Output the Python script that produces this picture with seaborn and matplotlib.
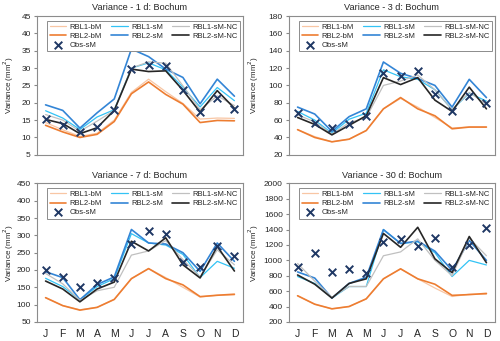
import numpy as np
import pandas as pd
import matplotlib
matplotlib.use("Agg")
import matplotlib.pyplot as plt
import seaborn as sns

months = ["J", "F", "M", "A", "M", "J", "J", "A", "S", "O", "N", "D"]
series_names = ["RBL1-bM", "RBL2-bM", "RBL1-sM", "RBL2-sM", "RBL1-sM-NC", "RBL2-sM-NC"]

# 1 d
rbl1_bm_1d = [14.3, 12.2, 10.3, 11.2, 15.0, 23.0, 26.8, 23.2, 19.8, 15.3, 15.6, 15.5]
rbl2_bm_1d = [13.5, 11.6, 10.0, 10.9, 14.6, 22.6, 26.0, 22.4, 19.6, 14.3, 14.9, 14.8]
rbl1_sm_1d = [17.7, 15.6, 12.3, 15.9, 18.0, 30.0, 31.5, 29.5, 24.5, 18.8, 24.4, 20.6]
rbl2_sm_1d = [19.4, 17.8, 12.7, 17.1, 21.1, 35.5, 33.3, 29.7, 27.3, 19.7, 26.8, 21.9]
rbl1_nc_1d = [16.6, 15.0, 11.8, 14.7, 17.8, 30.0, 31.8, 31.4, 24.9, 18.0, 22.0, 19.2]
rbl2_nc_1d = [15.2, 14.0, 11.1, 12.8, 17.8, 29.7, 29.0, 29.2, 23.6, 17.3, 23.5, 18.4]
obs_1d = [15.4, 13.7, 11.7, 13.1, 18.0, 29.8, 30.9, 30.7, 23.6, 17.3, 21.4, 18.3]

# 3 d
rbl1_bm_3d = [49, 41, 35, 38, 48, 73, 85, 75, 63, 51, 52, 52]
rbl2_bm_3d = [49, 40, 35, 38, 48, 73, 86, 73, 65, 50, 52, 52]
rbl1_sm_3d = [70, 60, 45, 61, 68, 118, 110, 107, 95, 72, 91, 82]
rbl2_sm_3d = [75, 67, 47, 64, 73, 127, 114, 108, 100, 75, 107, 86]
rbl1_nc_3d = [66, 58, 44, 57, 63, 100, 105, 112, 95, 72, 92, 78]
rbl2_nc_3d = [63, 55, 43, 54, 65, 109, 101, 109, 83, 70, 98, 73]
obs_3d = [68, 57, 51, 55, 65, 114, 111, 117, 90, 70, 88, 80]

# 7 d
rbl1_bm_7d = [120, 97, 85, 92, 115, 175, 204, 178, 150, 122, 127, 128]
rbl2_bm_7d = [120, 97, 84, 92, 115, 175, 204, 175, 157, 123, 127, 130]
rbl1_sm_7d = [176, 152, 114, 152, 175, 305, 278, 272, 245, 178, 225, 205]
rbl2_sm_7d = [195, 178, 114, 158, 180, 317, 278, 275, 250, 196, 278, 225]
rbl1_nc_7d = [190, 160, 112, 140, 150, 243, 255, 285, 230, 180, 258, 215]
rbl2_nc_7d = [168, 145, 108, 145, 165, 283, 255, 293, 215, 177, 268, 197]
obs_7d = [200, 179, 151, 162, 177, 275, 313, 303, 224, 210, 268, 241]

# 30 d
rbl1_bm_30d = [540, 430, 370, 400, 500, 760, 890, 760, 640, 530, 560, 560]
rbl2_bm_30d = [540, 430, 370, 400, 500, 760, 890, 760, 690, 545, 555, 570]
rbl1_sm_30d = [790, 700, 510, 660, 660, 1400, 1220, 1240, 1100, 790, 1000, 940]
rbl2_sm_30d = [850, 770, 510, 700, 780, 1400, 1220, 1250, 1120, 870, 1260, 1000]
rbl1_nc_30d = [960, 730, 520, 660, 660, 1060, 1110, 1280, 1000, 800, 1290, 1060]
rbl2_nc_30d = [810, 690, 510, 700, 760, 1350, 1170, 1430, 1020, 840, 1310, 970]
obs_30d = [910, 1100, 845, 885, 835, 1240, 1275, 1190, 1285, 920, 1200, 1420]

panels = [
    ("Variance - 1 d: Bochum", [rbl1_bm_1d, rbl2_bm_1d, rbl1_sm_1d, rbl2_sm_1d, rbl1_nc_1d, rbl2_nc_1d], obs_1d, (5, 45, 5)),
    ("Variance - 3 d: Bochum", [rbl1_bm_3d, rbl2_bm_3d, rbl1_sm_3d, rbl2_sm_3d, rbl1_nc_3d, rbl2_nc_3d], obs_3d, (20, 180, 20)),
    ("Variance - 7 d: Bochum", [rbl1_bm_7d, rbl2_bm_7d, rbl1_sm_7d, rbl2_sm_7d, rbl1_nc_7d, rbl2_nc_7d], obs_7d, (50, 450, 50)),
    ("Variance - 30 d: Bochum", [rbl1_bm_30d, rbl2_bm_30d, rbl1_sm_30d, rbl2_sm_30d, rbl1_nc_30d, rbl2_nc_30d], obs_30d, (200, 2000, 200)),
]

colors = {"RBL1-bM": "#F8C6A4", "RBL2-bM": "#ED7D31", "RBL1-sM": "#33C3F5",
          "RBL2-sM": "#3385D6", "RBL1-sM-NC": "#C0C0C0", "RBL2-sM-NC": "#262626"}
widths = {"RBL1-bM": 0.9, "RBL2-bM": 1.2, "RBL1-sM": 0.9,
          "RBL2-sM": 1.2, "RBL1-sM-NC": 0.9, "RBL2-sM-NC": 1.2}
obs_color = "#1F3864"

sns.set_style("white")
plt.rcParams["font.family"] = ["Liberation Sans", "DejaVu Sans"]

fig = plt.figure(figsize=(5, 3.41), dpi=100)
positions = [(0.074, 0.546, 0.412, 0.407), (0.578, 0.546, 0.412, 0.407),
             (0.074, 0.056, 0.412, 0.406), (0.578, 0.056, 0.412, 0.406)]
label_x = [-0.1, -0.135, -0.1, -0.135]

x = np.arange(12)
for i, (title, series, obs, (ymin, ymax, ystep)) in enumerate(panels):
    ax = fig.add_axes(positions[i])
    rows = []
    for name, vals in zip(series_names, series):
        for m, v in zip(x, vals):
            rows.append({"month": m, "value": v, "series": name})
    df = pd.DataFrame(rows)
    for name in series_names:
        sns.lineplot(data=df[df["series"] == name], x="month", y="value", ax=ax,
                     color=colors[name], lw=widths[name], label=name)
    obs_df = pd.DataFrame({"month": x, "value": obs})
    sns.scatterplot(data=obs_df, x="month", y="value", ax=ax, marker="x", s=30,
                    color=obs_color, linewidth=1.4, label="Obs-sM", zorder=5)

    ax.set_xlim(-0.5, 11.5)
    ax.set_ylim(ymin, ymax)
    ax.set_yticks(np.arange(ymin, ymax + ystep, ystep))
    ax.set_xticks(x)
    ax.set_xticks(np.arange(0.5, 11.5, 1), minor=True)
    if i >= 2:
        ax.set_xticklabels(months, fontsize=7.5)
    else:
        ax.set_xticklabels([])
    ax.tick_params(axis="x", which="major", length=0, pad=5)
    ax.tick_params(axis="x", which="minor", length=3, direction="in", color="#888888")
    ax.tick_params(axis="y", length=2.5, direction="out", labelsize=6, pad=2, color="#888888", left=True)
    ax.set_xlabel("")
    ax.set_ylabel("Variance (mm$^2$)", fontsize=5.8)
    ax.yaxis.set_label_coords(label_x[i], 0.5)
    ax.set_title(title, fontsize=6.6, pad=4)
    for sp in ax.spines.values():
        sp.set_color("#8C8C8C")
        sp.set_linewidth(0.8)

    handles, labels = ax.get_legend_handles_labels()
    order = ["RBL1-bM", "RBL2-bM", "Obs-sM", "RBL1-sM", "RBL2-sM", "RBL1-sM-NC", "RBL2-sM-NC"]
    hmap = dict(zip(labels, handles))
    leg = ax.legend([hmap[k] for k in order], order, ncol=3, loc="upper left",
                    bbox_to_anchor=(0.05, 0.77, 0.935, 0.195), mode="expand",
                    fontsize=5.5, frameon=True, fancybox=False, framealpha=1,
                    edgecolor="#8C8C8C", handlelength=2.2, handletextpad=0.4,
                    borderpad=0.3, labelspacing=0.25, columnspacing=1.0,
                    borderaxespad=0)
    leg.get_frame().set_linewidth(0.7)

fig.savefig("out.png", dpi=100)
